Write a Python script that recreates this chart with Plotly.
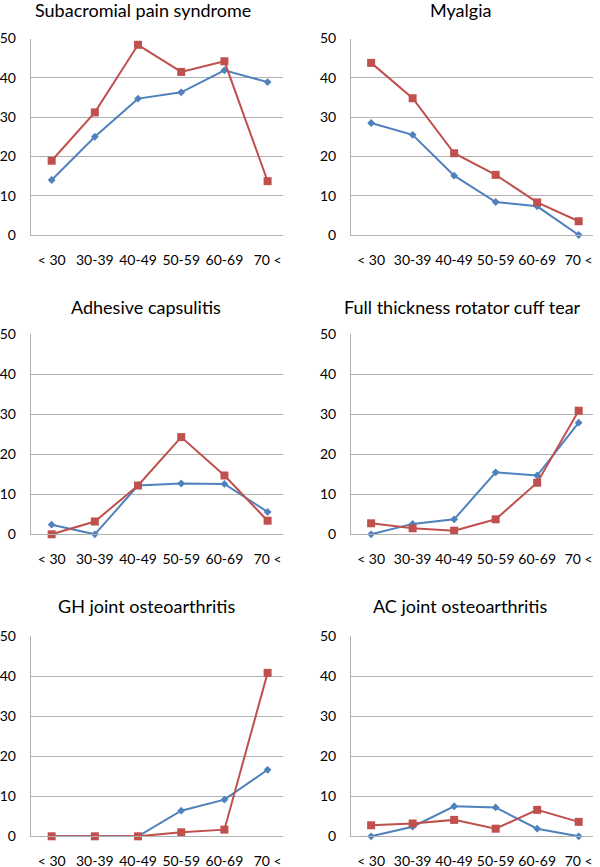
import plotly.graph_objects as go

# ---- data ----
age_groups = ["< 30", "30-39", "40-49", "50-59", "60-69", "70 <"]
titles = [
    "Subacromial pain syndrome",
    "Myalgia",
    "Adhesive capsulitis",
    "Full thickness rotator cuff tear",
    "GH joint osteoarthritis",
    "AC joint osteoarthritis",
]
series1_subacromial = [14.0, 25.0, 34.7, 36.3, 41.9, 38.9]
series2_subacromial = [18.9, 31.2, 48.4, 41.5, 44.2, 13.7]
series1_myalgia = [28.5, 25.5, 15.1, 8.4, 7.3, 0.0]
series2_myalgia = [43.8, 34.8, 20.8, 15.3, 8.3, 3.5]
series1_adhesive = [2.4, 0.0, 12.2, 12.7, 12.6, 5.6]
series2_adhesive = [0.0, 3.2, 12.2, 24.3, 14.7, 3.4]
series1_cufftear = [0.0, 2.6, 3.75, 15.5, 14.7, 27.9]
series2_cufftear = [2.75, 1.5, 0.9, 3.75, 12.9, 30.9]
series1_gh = [0.0, 0.0, 0.0, 6.4, 9.15, 16.6]
series2_gh = [0.0, 0.0, 0.0, 1.0, 1.66, 40.8]
series1_ac = [0.0, 2.4, 7.5, 7.2, 1.9, 0.0]
series2_ac = [2.75, 3.2, 4.1, 1.9, 6.6, 3.6]

y_ticks = [0, 10, 20, 30, 40, 50]

panels = [
    (series1_subacromial, series2_subacromial),
    (series1_myalgia, series2_myalgia),
    (series1_adhesive, series2_adhesive),
    (series1_cufftear, series2_cufftear),
    (series1_gh, series2_gh),
    (series1_ac, series2_ac),
]

# ---- layout geometry (pixels) ----
W, H = 600, 867
BLUE = "#4F81BD"
RED = "#C0504D"
GRID = "#b0b0b0"
FONT = "Lato"
TICK_FONT = dict(family=FONT, size=14, color="#000")

col_x = [(30.7, 282.5), (351.0, 593.0)]
row_y = [(38.5, 235.0), (334.3, 534.3), (636.0, 836.3)]
title_pos = [(143, 10), (460, 10), (146, 307), (463, 307), (146, 606), (460, 606)]

fig = go.Figure()
layout = {}
annotations = []
for i, (s1, s2) in enumerate(panels):
    r, c = divmod(i, 2)
    n = "" if i == 0 else str(i + 1)
    xa, ya = "x" + n, "y" + n
    fig.add_trace(go.Scatter(
        x=age_groups, y=s1, xaxis=xa, yaxis=ya, mode="lines+markers",
        name="Series 1", showlegend=False, cliponaxis=False,
        line=dict(color=BLUE, width=2),
        marker=dict(symbol="diamond", size=6, color=BLUE),
    ))
    fig.add_trace(go.Scatter(
        x=age_groups, y=s2, xaxis=xa, yaxis=ya, mode="lines+markers",
        name="Series 2", showlegend=False, cliponaxis=False,
        line=dict(color=RED, width=2),
        marker=dict(symbol="square", size=8, color=RED),
    ))
    x0, x1 = col_x[c]
    y0, y1 = row_y[r]
    layout["xaxis" + n] = dict(
        domain=[x0 / W, x1 / W], anchor=ya, type="category",
        range=[-0.485, 5.345], showgrid=False, showline=True, linecolor=GRID,
        linewidth=1, ticks="outside", ticklen=12, tickcolor="rgba(0,0,0,0)",
        tickangle=0, zeroline=False, tickfont=TICK_FONT, fixedrange=True,
        automargin=False,
    )
    layout["yaxis" + n] = dict(
        domain=[1 - y1 / H, 1 - y0 / H], anchor=xa, range=[0, 50],
        tickvals=y_ticks, showgrid=True, gridcolor=GRID, gridwidth=1,
        showline=True, linecolor=GRID, linewidth=1, zeroline=False,
        ticks="outside", ticklen=11, tickcolor="rgba(0,0,0,0)",
        tickfont=TICK_FONT, fixedrange=True, automargin=False,
    )
    tx, ty = title_pos[i]
    annotations.append(dict(
        text=titles[i], x=tx / W, y=1 - ty / H, xref="paper", yref="paper",
        xanchor="center", yanchor="middle", showarrow=False,
        font=dict(family=FONT, size=18, color="#000"),
    ))

fig.update_layout(
    width=W, height=H, margin=dict(l=0, r=0, t=0, b=0, autoexpand=False),
    paper_bgcolor="white", plot_bgcolor="white",
    annotations=annotations, **layout,
)
fig.write_html(
    "out.html",
    config={"displayModeBar": False},
    post_script="document.body.style.margin='0';document.body.style.overflow='hidden';",
)
